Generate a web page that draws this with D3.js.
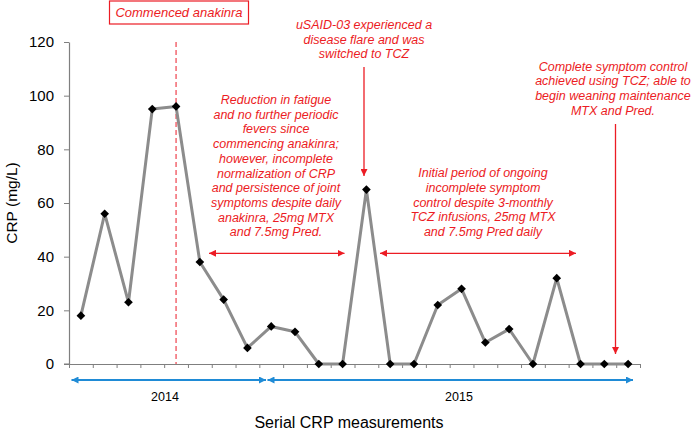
<!DOCTYPE html>
<html><head><meta charset="utf-8">
<script src="https://cdn.jsdelivr.net/npm/d3@7"></script>
<style>body{margin:0;background:#fff;} svg{display:block;}</style>
</head><body>
<svg id="chart" width="695" height="430"></svg>
<script>
const crpValues = [18, 56, 23, 95, 96, 38, 24, 6, 14, 12, 0, 0, 65, 0, 0, 22, 28, 8, 13, 0, 32, 0, 0, 0];
const yTicks = [0, 20, 40, 60, 80, 100, 120];
const yearLabels = ["2014", "2015"];
const yTitle = "CRP (mg/L)";
const xTitle = "Serial CRP measurements";
const boxNote = "Commenced anakinra";
const noteAnakinra = ["Reduction in fatigue","and no further periodic","fevers since","commencing anakinra;","however, incomplete","normalization of CRP","and persistence of joint","symptoms despite daily","anakinra, 25mg MTX","and 7.5mg Pred."];
const noteFlare = ["uSAID-03 experienced a","disease flare and was","switched to TCZ"];
const noteInitial = ["Initial period of ongoing","incomplete symptom","control despite 3-monthly","TCZ infusions, 25mg MTX","and 7.5mg Pred daily"];
const noteComplete = ["Complete symptom control","achieved using TCZ; able to","begin weaning maintenance","MTX and Pred."];

const svg = d3.select("#chart");
const pLeft = 69, pRight = 640, pTop = 42, pBottom = 364;
const RED = "#ec1c24", BLUE = "#1f8bd6", AXIS = "#7f7f7f";

const x = d3.scaleBand().domain(d3.range(crpValues.length)).range([pLeft, pRight]).padding(0);
const xl = d3.scaleLinear().domain([0, crpValues.length]).range([pLeft, pRight]);
const y = d3.scaleLinear().domain([0, 120]).range([pBottom, pTop]);
const cx = i => x(i) + x.bandwidth() / 2;

const defs = svg.append("defs");
function marker(id, color, w, h) {
  defs.append("marker").attr("id", id).attr("viewBox", "0 0 10 10").attr("refX", 10).attr("refY", 5)
    .attr("markerWidth", w).attr("markerHeight", h).attr("markerUnits", "userSpaceOnUse")
    .attr("orient", "auto-start-reverse")
    .append("path").attr("d", "M0,0L10,5L0,10Z").attr("fill", color);
}
marker("redHead", RED, 7, 7);
marker("blueHead", BLUE, 8, 7);

// axes
const yAxis = svg.append("g").attr("transform", `translate(${pLeft},0)`)
  .call(d3.axisLeft(y).tickValues(yTicks).tickSizeInner(5).tickSizeOuter(0).tickPadding(10));
yAxis.select(".domain").attr("stroke", AXIS).attr("stroke-width", 1.2);
yAxis.selectAll(".tick line").attr("stroke", AXIS);
yAxis.selectAll(".tick text").attr("font-family", "Liberation Sans, Arial, sans-serif").attr("font-size", 15).attr("fill", "#000");

const xAxis = svg.append("g").attr("transform", `translate(0,${pBottom})`)
  .call(d3.axisBottom(xl).tickValues(d3.range(crpValues.length + 1)).tickFormat("").tickSizeInner(4).tickSizeOuter(0));
xAxis.select(".domain").attr("stroke", AXIS).attr("stroke-width", 1.2);
xAxis.selectAll(".tick line").attr("stroke", AXIS);
svg.append("line").attr("x1", pLeft - 5).attr("x2", pLeft).attr("y1", pBottom).attr("y2", pBottom).attr("stroke", AXIS);

// dashed line at commencement
svg.append("line").attr("x1", cx(4)).attr("x2", cx(4)).attr("y1", y(120)).attr("y2", y(0))
  .attr("stroke", "#f0505a").attr("stroke-width", 1.3).attr("stroke-dasharray", "5,3");

// data line
svg.append("path").datum(crpValues)
  .attr("d", d3.line().x((d, i) => cx(i)).y(d => y(d)))
  .attr("fill", "none").attr("stroke", "#8c8c8c").attr("stroke-width", 3).attr("stroke-linejoin", "round");
svg.selectAll(".pt").data(crpValues).join("path").attr("class", "pt")
  .attr("transform", (d, i) => `translate(${cx(i)},${y(d)})`)
  .attr("d", d3.symbol(d3.symbolDiamond2, 48)).attr("fill", "#000");

// text helpers
const font = "Liberation Sans, Arial, sans-serif";
function block(lines, xc, y0, lh) {
  svg.append("g").selectAll("text").data(lines).join("text")
    .attr("x", xc).attr("y", (d, i) => y0 + i * lh).attr("text-anchor", "middle")
    .attr("dominant-baseline", "central")
    .attr("font-family", font).attr("font-style", "italic").attr("font-size", 12.5).attr("fill", RED)
    .text(d => d);
}
block(noteAnakinra, 276, 100, 14.7);
block(noteFlare, 364, 25, 14.7);
block(noteInitial, 483, 173.3, 14.7);
block(noteComplete, 613, 66.7, 14.7);

// box note
svg.append("rect").attr("x", 109.5).attr("y", 1).attr("width", 139).attr("height", 23)
  .attr("fill", "#fff").attr("stroke", RED).attr("stroke-width", 1.2);
svg.append("text").attr("x", 179).attr("y", 12.5).attr("text-anchor", "middle").attr("dominant-baseline", "central")
  .attr("font-family", font).attr("font-style", "italic").attr("font-size", 13).attr("fill", RED).text(boxNote);

// arrows
function arrow(x1, y1, x2, y2, color, head, both, w) {
  const l = svg.append("line").attr("x1", x1).attr("y1", y1).attr("x2", x2).attr("y2", y2)
    .attr("stroke", color).attr("stroke-width", w).attr("marker-end", `url(#${head})`);
  if (both) l.attr("marker-start", `url(#${head})`);
}
arrow(209, 253.3, 344.5, 253.3, RED, "redHead", true, 1.3);
arrow(380, 253.3, 576, 253.3, RED, "redHead", true, 1.3);
arrow(364, 67, 364, 176, RED, "redHead", false, 1.3);
arrow(615.5, 124, 615.5, 354, RED, "redHead", false, 1.3);

// year arrows
arrow(71.5, 380, 266, 380, BLUE, "blueHead", true, 2.2);
arrow(267.5, 380, 633, 380, BLUE, "blueHead", true, 2.2);
svg.selectAll(".yr").data(yearLabels).join("text").attr("class", "yr")
  .attr("x", (d, i) => [165, 459][i]).attr("y", 397).attr("text-anchor", "middle").attr("dominant-baseline", "central")
  .attr("font-family", font).attr("font-size", 12.5).attr("fill", "#000").text(d => d);

// titles
svg.append("text").attr("transform", `translate(11,203) rotate(-90)`).attr("text-anchor", "middle")
  .attr("dominant-baseline", "central").attr("font-family", font).attr("font-size", 15.5).attr("fill", "#000").text(yTitle);
svg.append("text").attr("x", 349).attr("y", 422).attr("text-anchor", "middle").attr("dominant-baseline", "central")
  .attr("font-family", font).attr("font-size", 16).attr("fill", "#000").text(xTitle);
</script>
</body></html>
